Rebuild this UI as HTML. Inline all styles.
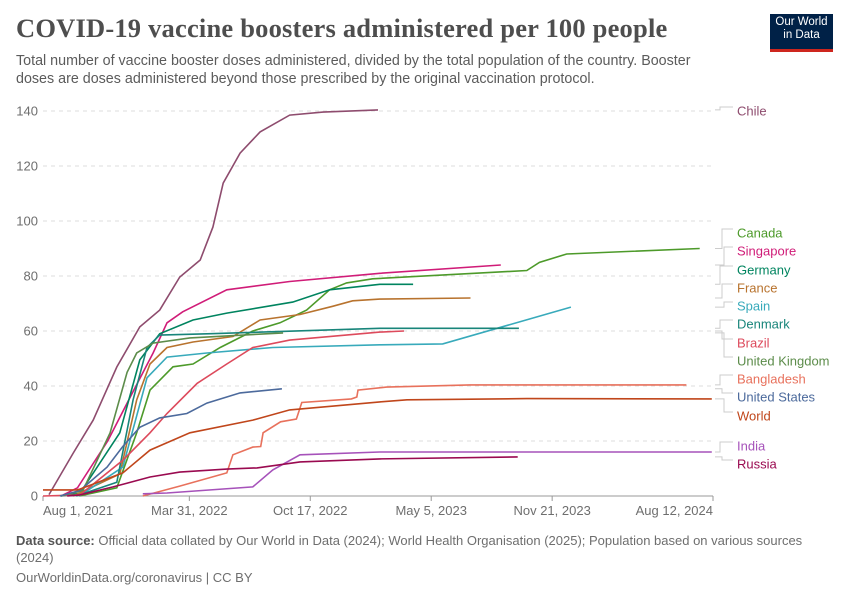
<!DOCTYPE html>
<html><head><meta charset="utf-8">
<style>
body{margin:0;background:#fff;width:850px;height:600px;overflow:hidden;font-family:"Liberation Sans",sans-serif;}
#title{position:absolute;left:16px;top:13px;font-family:"Liberation Serif",serif;font-weight:bold;font-size:26.5px;color:#4e4e4e;letter-spacing:0.2px}
#sub{position:absolute;left:16px;top:52px;width:700px;font-size:14.3px;line-height:18px;color:#5b5b5b}
#logo{position:absolute;left:770px;top:14px;width:63px;height:38px;background:#002147;border-bottom:3px solid #ce261e;color:#fff;font-size:11.5px;line-height:13px;text-align:center;padding-top:2px;box-sizing:border-box}
#src{position:absolute;left:16px;top:532px;width:800px;font-size:13px;line-height:17px;color:#6e6e6e}
#src b{color:#555}
#foot{position:absolute;left:16px;top:570px;font-size:13px;color:#6e6e6e}
svg{position:absolute;left:0;top:0}
</style></head><body>
<div id="title">COVID-19 vaccine boosters administered per 100 people</div>
<div id="sub">Total number of vaccine booster doses administered, divided by the total population of the country. Booster doses are doses administered beyond those prescribed by the original vaccination protocol.</div>
<div id="logo">Our World<br>in Data</div>
<svg id="chart" width="850" height="600"></svg>
<div id="src"><b>Data source:</b> Official data collated by Our World in Data (2024); World Health Organisation (2025); Population based on various sources (2024)</div>
<div id="foot">OurWorldinData.org/coronavirus | CC BY</div>
<script>
// x = days since 2021-08-01
const xTickLabels = ["Aug 1, 2021","Mar 31, 2022","Oct 17, 2022","May 5, 2023","Nov 21, 2023","Aug 12, 2024"];
const xTickDays = [0,242,442,642,842,1108];
const yTicks = [0,20,40,60,80,100,120,140];
const seriesNames = ["Chile","Canada","Singapore","Germany","France","Spain","Denmark","Brazil","United Kingdom","Bangladesh","United States","World","India","Russia"];
const seriesColors = ["#8e4c6e","#4d9a2a","#d01c78","#00845f","#b8732e","#38aabb","#18857a","#dd4a5c","#5c8c4a","#e8715c","#4c6a9c","#c0461b","#a652ba","#9a0a50"];
const chileDays=[10,50,83,122,160,193,226,260,281,298,326,359,408,463,554];
const chileVals=[0.5,15.6,27.6,46.9,61.5,67.6,79.6,85.8,97.8,113.8,124.7,132.4,138.5,139.6,140.4];
const canadaDays=[60,122,155,177,215,248,293,347,392,436,474,502,545,800,821,866,1086];
const canadaVals=[0,3,23,38.5,47,48,54,60,63,67.6,75,77.5,79,82,85,88,90];
const singaporeDays=[30,57,107,149,182,205,231,304,408,557,757];
const singaporeVals=[0,3,20,38,52,63,67,75,78,81,84];
const germanyDays=[30,61,127,160,193,248,304,413,474,557,612];
const germanyVals=[0,1,23,49.5,59,64,66.5,70.5,75,77,77];
const franceDays=[50,127,155,177,205,248,314,359,425,479,512,557,707];
const franceVals=[0,8,35,48,54,56,58,64,66,69,71,71.6,72];
const spainDays=[60,132,172,205,271,380,557,661,873];
const spainVals=[0,10.5,43,50.5,52,54,55,55.3,68.7];
const denmarkDays=[55,122,149,172,193,271,557,787];
const denmarkVals=[0,5,35,54,58.5,59,61,61];
const brazilDays=[0,61,132,177,205,255,304,347,408,557,597];
const brazilVals=[0,0.4,13,23,30,41,48,54,56.7,59.6,60];
const ukDays=[30,66,111,139,155,182,243,397];
const ukVals=[0,2,23,45,52,55.6,57.5,59.3];
const bangladeshDays=[165,226,304,314,347,360,364,393,419,428,510,519,521,568,706,1064];
const bangladeshVals=[0,3.6,8.4,15,17.8,18,23,27,28,34,35.3,36,38.5,39.6,40.4,40.4];
const usDays=[28,61,106,132,160,193,238,271,326,395];
const usVals=[0,2,10.5,18,25,28.4,30,33.8,37.5,39];
const worldDays=[0,56,61,132,177,243,347,408,557,602,800,1106];
const worldVals=[2.2,2.2,2.5,8.4,16.7,23,27.6,31.3,34.2,35,35.4,35.3];
const indiaDays=[165,205,347,380,425,557,1106];
const indiaVals=[0.8,1.1,3.3,9.5,15,16,16];
const russiaDays=[40,61,116,177,226,304,354,425,557,785];
const russiaVals=[0,0.4,3.3,6.9,8.7,9.8,10.2,12.4,13.5,14.2];
const allDays=[chileDays,canadaDays,singaporeDays,germanyDays,franceDays,spainDays,denmarkDays,brazilDays,ukDays,bangladeshDays,usDays,worldDays,indiaDays,russiaDays];
const allVals=[chileVals,canadaVals,singaporeVals,germanyVals,franceVals,spainVals,denmarkVals,brazilVals,ukVals,bangladeshVals,usVals,worldVals,indiaVals,russiaVals];
const labelY=[111,233,251,270,288,306,324,343,361,379,397,416,446,464];

const X0=43,X1=713,Y0=496,Y1=111;
const xs=d=>X0+(d-0)/(1108-0)*(X1-X0);
const ys=v=>Y0-(v/140)*(Y0-Y1);
const svg=document.getElementById('chart');
const NS='http://www.w3.org/2000/svg';
function mk(t,a){const e=document.createElementNS(NS,t);for(const k in a)e.setAttribute(k,a[k]);svg.appendChild(e);return e;}
yTicks.forEach(v=>{
  if(v>0){const g=mk('line',{x1:X0,x2:X1,y1:ys(v),y2:ys(v),stroke:'#dddddd','stroke-dasharray':'4,4'});
  
  }
  const t=mk('text',{x:38,y:ys(v)+4.5,'text-anchor':'end','font-size':13,fill:'#6e6e6e','font-family':'Liberation Sans,sans-serif'});
  t.textContent=v;
  
  
});
const ax=mk('line',{x1:X0,x2:X1,y1:Y0,y2:Y0,stroke:'#999'});


xTickLabels.forEach((lab,i)=>{
  const x=xs(xTickDays[i]);
  const tk=mk('line',{x1:x,x2:x,y1:Y0,y2:Y0+5,stroke:'#999'});
  
  
  let anchor='middle',tx=x;
  if(i===0){anchor='start';tx=x;}
  if(i===xTickLabels.length-1){anchor='end';tx=x;}
  const t=mk('text',{x:tx,y:515,'text-anchor':anchor,'font-size':13,fill:'#6e6e6e','font-family':'Liberation Sans,sans-serif'});
  t.textContent=lab;
  
  
});
seriesNames.forEach((n,i)=>{
  const d=allDays[i].map((dd,j)=>(j?'L':'M')+xs(dd).toFixed(1)+','+ys(allVals[i][j]).toFixed(1)).join('');
  const p=mk('path',{d:d,fill:'none',stroke:seriesColors[i],'stroke-width':1.6});
  
  
  const lastV=allVals[i][allVals[i].length-1];
  const ey=ys(lastV),ly=labelY[i];
  const mx=720+ (i%3)*2;
  const c=mk('path',{d:`M715,${ey.toFixed(1)}H${mx}V${ly-4}H733`,fill:'none',stroke:'#cccccc','stroke-width':1});
  
  
  const t=mk('text',{x:737,y:ly+4.5,'font-size':13,fill:seriesColors[i],'font-family':'Liberation Sans,sans-serif'});
  t.textContent=n;
  
  
});
</script>
</body></html>
